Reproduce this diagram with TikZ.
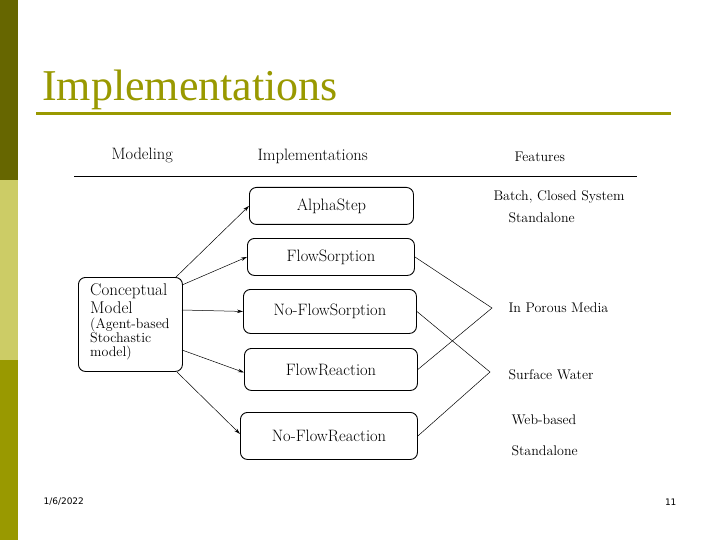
\documentclass[tikz,border=0pt]{standalone}
\usepackage{fontspec}
\setmainfont{Liberation Serif}
\newfontfamily\lmf{Latin Modern Roman}
\newfontfamily\sansf{DejaVu Sans}
\usetikzlibrary{arrows.meta}
\definecolor{oliveA}{HTML}{666600}
\definecolor{oliveB}{HTML}{CCCC66}
\definecolor{oliveC}{HTML}{999900}
\begin{document}
\begin{tikzpicture}[x=1pt,y=-1pt,
  box/.style={draw,rounded corners=7pt,line width=0.9pt,minimum height=#1,font=\lmf\fontsize{16.5}{17}\selectfont,inner sep=0pt},
  arr/.style={-{Stealth[length=6pt,width=3.5pt]},line width=0.5pt},
  ln/.style={line width=0.5pt},
  hd/.style={font=\lmf\fontsize{16.5}{17}\selectfont,anchor=west},
  ft/.style={font=\lmf\fontsize{14}{15}\selectfont,anchor=west}]
\useasboundingbox (0,0) rectangle (720,540);
\fill[white] (0,0) rectangle (720,540);
\fill[oliveA] (0,0) rectangle (18,180);
\fill[oliveB] (0,180) rectangle (18,360);
\fill[oliveC] (0,360) rectangle (18,540);
\node[anchor=base west,text=oliveC,font=\fontsize{44}{44}\selectfont,inner sep=0pt] (title) at (42,101) {Implementations};
\draw[oliveC,line width=3pt] (36,114) -- (671,114);
\node[hd] (h1) at (108,155) {Modeling};
\node[hd] (h2) at (254,156) {Implementations};
\node[hd,font=\lmf\fontsize{14}{15}\selectfont] (h3) at (511,157) {Features};
\draw[line width=0.8pt] (74,176) -- (637,176);
\node[box=37pt,minimum width=164pt,anchor=north west] (a) at (249,187) {AlphaStep};
\node[box=37pt,minimum width=167pt,anchor=north west] (b) at (247,238) {FlowSorption};
\node[box=44pt,minimum width=173pt,anchor=north west] (c) at (243,289) {No-FlowSorption};
\node[box=42pt,minimum width=173pt,anchor=north west] (d) at (244,348) {FlowReaction};
\node[box=47pt,minimum width=177pt,anchor=north west] (e) at (240,412) {No-FlowReaction};
\node[draw,rounded corners=7pt,line width=0.9pt,minimum width=104pt,minimum height=94pt,anchor=north west] (m) at (78,277) {};
\node[anchor=north west,align=left,inner sep=0pt,font=\lmf\fontsize{17}{18}\selectfont] (mt) at (90,283) {Conceptual\\Model\\[-3pt]{\fontsize{14}{15}\selectfont(Agent-based}\\[-4pt]{\fontsize{14}{15}\selectfont Stochastic}\\[-4pt]{\fontsize{14}{15}\selectfont model)}};
\coordinate (m1) at (175,278);
\coordinate (m2) at (182,285);
\coordinate (m3) at (182,310);
\coordinate (m4) at (182,350);
\coordinate (m5) at (177,372);
\draw[arr] (m1) -- (a.west);
\draw[arr] (m2) -- (b.west);
\draw[arr] (m3) -- (c.west);
\draw[arr] (m4) -- ([yshift=-3pt]d.west);
\draw[arr] (m5) -- ([yshift=2pt]e.west);
\coordinate (p1) at (492,308);
\coordinate (p2) at (490,372);
\draw[ln] (b.east) -- (p1) -- (d.east);
\draw[ln] (c.east) -- (p2) -- (e.east);
\node[ft] (f1) at (490,197) {Batch, Closed System};
\node[ft] (f2) at (505,218) {Standalone};
\node[ft] (f3) at (505,308) {In Porous Media};
\node[ft] (f4) at (505,375) {Surface Water};
\node[ft] (f5) at (508,420) {Web-based};
\node[ft] (f6) at (508,451) {Standalone};
\node[anchor=west,font=\sansf\fontsize{9}{10}\selectfont] (date) at (40,502) {1/6/2022};
\node[anchor=east,font=\sansf\fontsize{9}{10}\selectfont] (pg) at (680,502) {11};
\end{tikzpicture}
\end{document}
